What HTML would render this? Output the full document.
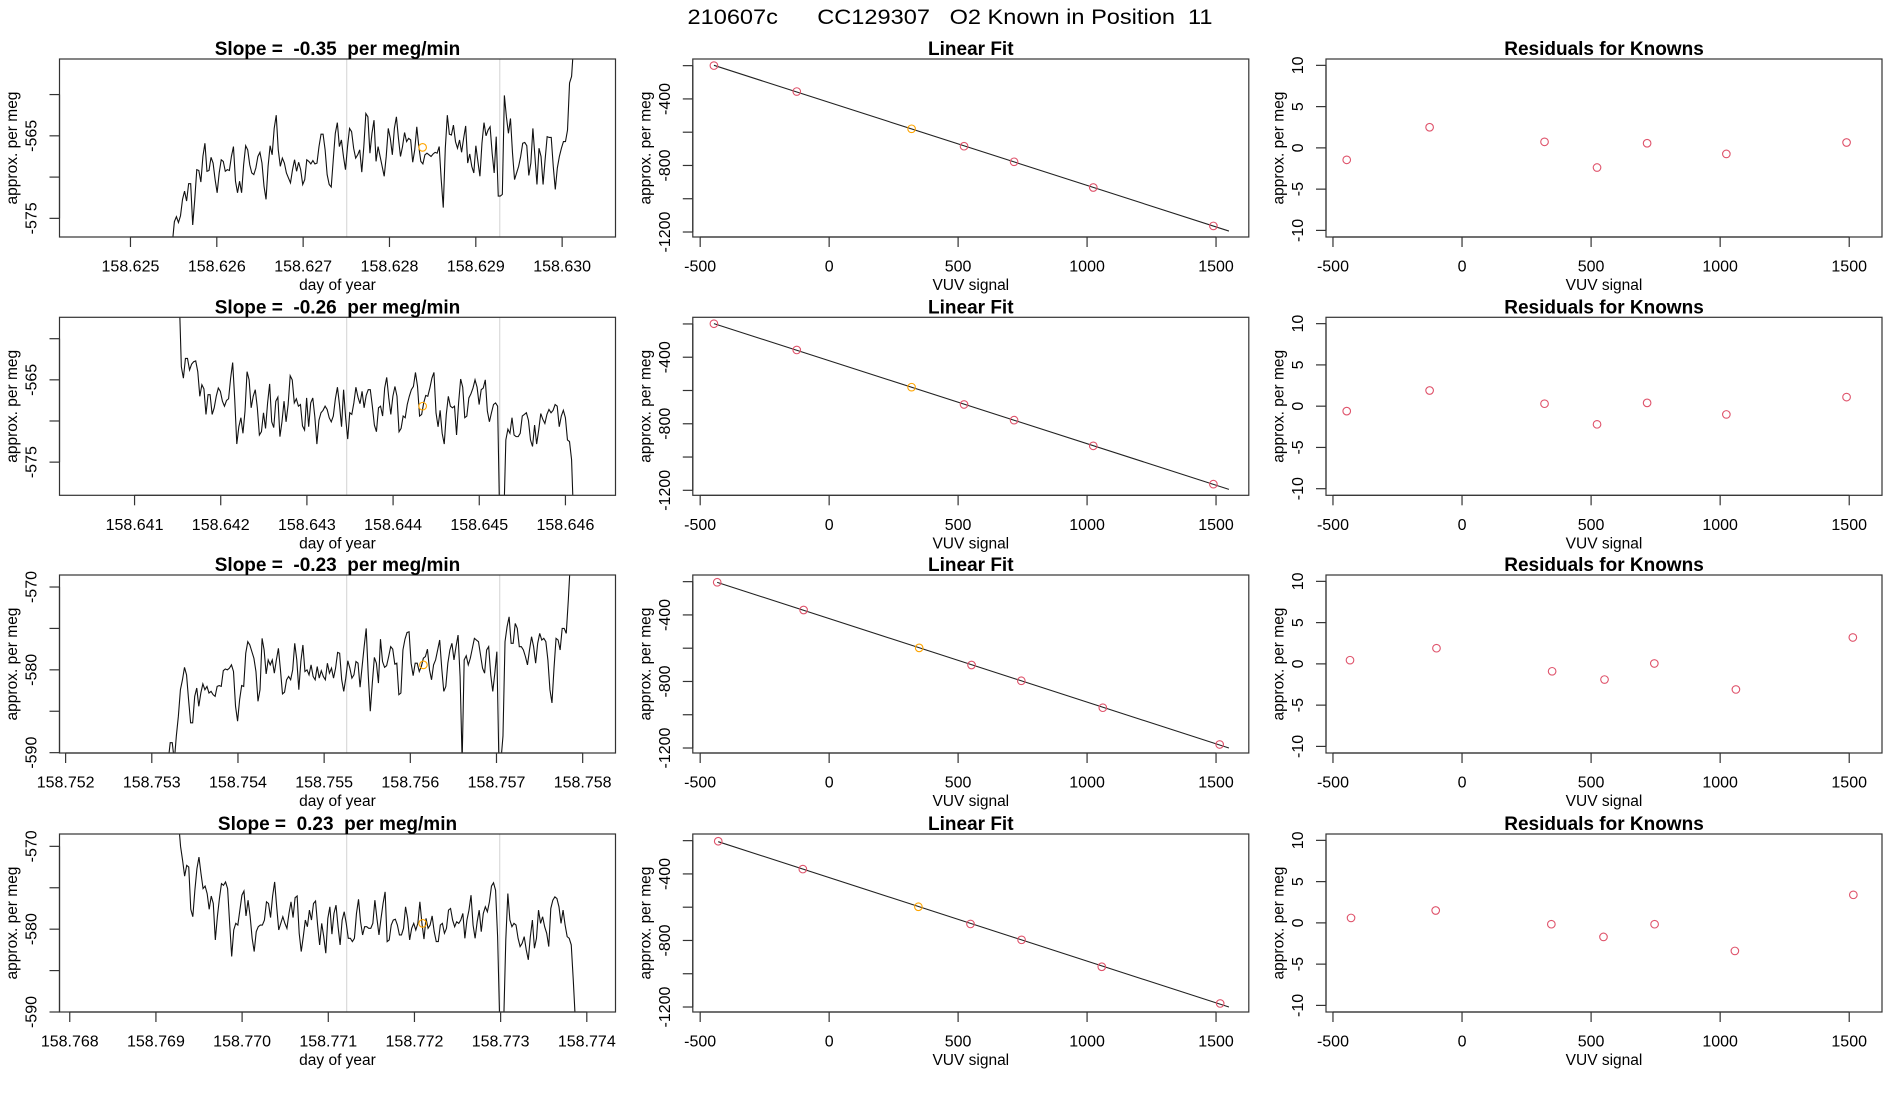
<!DOCTYPE html>
<html><head><meta charset="utf-8"><title>210607c CC129307 O2 Known in Position 11</title>
<style>
html,body{margin:0;padding:0;background:#fff;}
svg{display:block;font-family:"Liberation Sans",Arial,sans-serif;}
text{white-space:pre;}
</style></head>
<body>
<svg id="chart" xmlns="http://www.w3.org/2000/svg" width="1900" height="1100" viewBox="0 0 1900 1100">
<rect x="0" y="0" width="1900" height="1100" fill="#fff"/>
<text x="950" y="24" text-anchor="middle" font-size="21" textLength="525" lengthAdjust="spacingAndGlyphs">210607c      CC129307   O2 Known in Position  11</text>
</svg>
<script>
// ---------- data ----------
const slopeTitles = ["Slope =  -0.35  per meg/min","Slope =  -0.26  per meg/min","Slope =  -0.23  per meg/min","Slope =  0.23  per meg/min"];
const seriesStart = [158.625485, 158.641519, 158.75319, 158.769262];
const seriesEnd = [158.630133, 158.646095, 158.757857, 158.773867];
const series1Values = [-578,-575.4,-574.8,-575.5,-574.7,-572.7,-571.7,-572.9,-570.8,-570.8,-575.8,-572.7,-569.1,-569.2,-570.6,-567.5,-565.9,-569.3,-569.2,-567.6,-568.3,-570.3,-571.9,-569.5,-567.9,-568.1,-569.3,-569.1,-569.2,-567.5,-566.3,-570.5,-571.9,-570.5,-571.9,-568.5,-566.2,-566.7,-568.5,-569.5,-569.7,-568.9,-567.5,-567.0,-568.3,-571.1,-572.7,-568.7,-566.2,-567.3,-564.1,-562.5,-566.7,-568.7,-567.7,-568.3,-569.5,-570.1,-570.7,-569.1,-567.9,-569.3,-568.2,-569.1,-570.9,-570.3,-567.9,-568.1,-568.4,-568.0,-568.4,-568.3,-566.3,-564.8,-564.8,-566.7,-569.7,-570.9,-571.2,-567.9,-564.7,-563.4,-566.3,-565.5,-567.5,-569.1,-566.3,-564.1,-564.5,-566.5,-567.7,-567.3,-566.7,-569.4,-566.3,-562.3,-562.7,-567.1,-564.7,-563.1,-568.1,-566.3,-567.5,-568.7,-569.9,-567.5,-564.1,-565.3,-567.3,-564.1,-562.7,-565.3,-567.5,-566.3,-564.6,-565.7,-565.3,-565.5,-568.2,-566.7,-563.9,-566.3,-568.1,-568.4,-567.3,-567.1,-567.3,-567.5,-567.2,-567.0,-567.1,-566.3,-570.3,-573.7,-566.5,-562.5,-564.8,-564.9,-563.7,-565.7,-566.5,-565.5,-567.0,-565.3,-563.8,-568.3,-567.2,-568.7,-569.5,-566.2,-568.1,-569.9,-565.9,-563.4,-565.0,-564.3,-563.9,-567.1,-569.5,-565.1,-572.3,-572.3,-572.1,-560.1,-562.7,-564.7,-562.9,-567.1,-570.3,-569.5,-568.7,-567.5,-565.9,-565.8,-566.2,-569.8,-568.3,-564.1,-567.5,-570.9,-566.5,-567.5,-570.9,-567.9,-565.1,-565.2,-565.2,-568.7,-571.5,-568.9,-567.5,-566.5,-565.7,-565.7,-564.3,-558.6,-557.8,-554];
const series2Values = [-555,-563.4,-564.8,-562.4,-562.4,-563.8,-563.1,-562.8,-562.7,-564.0,-567.0,-565.6,-566.1,-569.2,-566.8,-566.8,-569.2,-568.4,-567.0,-566.0,-566.4,-567.6,-568.2,-567.5,-567.3,-564.8,-562.9,-567.4,-572.8,-570.7,-569.6,-571.5,-568.8,-564.0,-565.0,-568.4,-567.0,-566.2,-568.4,-571.7,-571.3,-569.0,-570.9,-567.8,-565.5,-570.1,-570.8,-567.6,-567.1,-571.9,-570.1,-567.6,-570.1,-568.0,-564.5,-565.0,-567.8,-567.3,-568.2,-568.0,-570.6,-571.1,-567.2,-570.7,-567.8,-567.2,-569.5,-572.8,-569.9,-569.0,-568.7,-568.2,-568.6,-569.6,-570.1,-569.4,-567.3,-565.9,-568.0,-570.7,-566.2,-569.6,-572.2,-569.0,-569.2,-567.8,-565.9,-567.1,-567.9,-566.4,-568.4,-566.9,-566.2,-566.2,-568.2,-570.5,-571.3,-568.4,-568.2,-569.4,-566.0,-564.7,-567.2,-569.2,-567.0,-565.8,-567.0,-571.3,-570.9,-569.4,-569.6,-568.0,-567.0,-566.2,-565.8,-564.1,-565.8,-569.4,-569.2,-567.8,-566.9,-567.0,-566.0,-564.8,-564.1,-569.0,-570.7,-568.7,-571.5,-572.8,-569.2,-567.0,-568.2,-568.4,-568.2,-571.7,-567.8,-564.9,-565.9,-569.6,-569.4,-567.2,-566.7,-566.0,-565.0,-565.9,-568.0,-566.2,-566.0,-565.0,-568.8,-570.1,-569.0,-568.0,-567.8,-568.2,-582,-582,-582,-572.3,-571.0,-571.5,-569.6,-571.7,-571.9,-571.9,-571.5,-569.4,-569.2,-569.0,-569.9,-572.3,-573.1,-570.5,-572.8,-571.1,-569.1,-569.8,-570.3,-569.2,-568.6,-569.0,-568.7,-568.0,-568.2,-570.7,-569.4,-568.7,-569.6,-572.3,-572.5,-574.7,-582];
const series3Values = [-591,-588.8,-588.8,-591,-588.0,-585.6,-582.4,-581.2,-579.7,-580.6,-583.6,-586.4,-586.4,-583.2,-582.2,-584.4,-582.8,-581.7,-582.4,-582.0,-582.8,-582.6,-583.0,-583.2,-582.0,-581.9,-582.0,-580.1,-579.9,-580.0,-579.8,-579.4,-580.2,-584.4,-586.2,-583.6,-581.9,-582.0,-578.0,-576.6,-577.0,-577.8,-578.6,-580.2,-583.8,-582.4,-576.2,-577.6,-580.5,-578.8,-579.4,-578.8,-580.4,-578.8,-577.4,-580.0,-582.9,-582.7,-581.2,-580.8,-581.2,-580.0,-576.8,-578.8,-582.4,-579.0,-577.0,-580.2,-580.0,-580.6,-579.4,-580.8,-581.2,-579.6,-581.0,-580.1,-580.8,-581.2,-579.2,-580.4,-579.8,-581.0,-579.8,-577.9,-578.0,-581.2,-582.6,-581.0,-578.9,-579.8,-581.0,-580.6,-579.0,-579.2,-582.1,-579.6,-577.2,-575.0,-580.6,-585.0,-581.6,-578.5,-579.2,-581.6,-576.3,-579.0,-579.7,-579.5,-578.4,-577.2,-577.5,-579.3,-579.2,-583.0,-582.8,-577.6,-576.3,-575.5,-575.4,-579.2,-580.7,-579.2,-579.2,-580.2,-579.6,-578.6,-578.4,-577.5,-580.0,-581.2,-579.4,-578.8,-577.6,-576.4,-579.8,-582.6,-582.0,-579.2,-577.6,-576.8,-578.8,-577.2,-575.8,-580.8,-591,-578.8,-578.3,-579.4,-578.6,-577.4,-576.2,-576.4,-576.6,-578.2,-579.8,-580.4,-577.6,-577.2,-580.6,-582.6,-580.4,-577.8,-591,-591,-588.0,-576.6,-574.8,-573.6,-576.8,-576.8,-574.4,-575.0,-577.2,-577.2,-577.6,-578.4,-579.4,-577.6,-576.0,-577.2,-579.2,-576.8,-575.6,-576.4,-576.2,-576.6,-578.8,-582.4,-584.0,-579.8,-576.2,-576.4,-577.6,-575.0,-575.0,-575.6,-571.6,-567];
const series4Values = [-567,-570.0,-571.7,-573.6,-572.3,-572.5,-577.6,-578.5,-575.3,-572.7,-571.3,-573.3,-575.1,-574.8,-575.7,-577.6,-576.0,-576.9,-581.3,-578.5,-576.3,-574.5,-574.7,-574.3,-575.1,-579.3,-583.3,-580.1,-579.3,-579.5,-577.7,-575.9,-575.4,-578.4,-576.5,-578.4,-581.1,-582.7,-580.3,-579.7,-579.5,-579.5,-578.9,-576.7,-576.9,-578.6,-576.0,-574.3,-577.3,-580.1,-579.3,-578.5,-579.3,-579.9,-578.1,-576.7,-578.6,-576.2,-576.0,-580.5,-582.7,-580.9,-578.9,-579.7,-577.7,-578.9,-576.9,-576.6,-579.5,-581.9,-579.3,-580.9,-582.9,-578.7,-577.3,-580.6,-578.1,-577.1,-579.7,-581.9,-578.9,-577.9,-579.3,-581.1,-581.1,-581.5,-581.1,-578.1,-576.4,-579.1,-580.7,-579.7,-579.7,-579.9,-579.9,-579.3,-576.5,-578.7,-580.7,-578.7,-576.9,-575.5,-581.5,-581.3,-579.5,-578.9,-578.8,-579.5,-580.7,-580.7,-579.9,-577.3,-578.7,-581.3,-579.9,-579.3,-580.1,-579.3,-576.7,-579.3,-581.2,-578.7,-579.9,-579.5,-578.4,-580.3,-581.5,-581.5,-579.5,-579.3,-580.5,-579.9,-577.7,-577.5,-578.9,-579.7,-579.1,-579.3,-578.9,-578.1,-581.1,-578.9,-577.7,-575.9,-579.5,-581.1,-579.1,-577.7,-580.3,-578.1,-577.3,-577.9,-576.7,-574.8,-574.4,-575.3,-580.9,-591,-591,-591,-581.3,-575.7,-578.9,-579.7,-579.3,-579.5,-581.1,-582.1,-581.7,-580.9,-582.5,-583.7,-580.9,-578.9,-582.3,-581.1,-577.7,-579.3,-578.5,-579.7,-580.5,-582.1,-577.5,-576.5,-576.1,-576.3,-577.3,-579.3,-577.7,-579.5,-580.9,-581.1,-581.9,-586.2,-591];
const markerTime = [158.628384, 158.644343, 158.756152, 158.772095];
const markerValue = [-566.4, -568.2, -579.4, -579.3];
const windowStart = [158.627505, 158.643462, 158.755262, 158.771214];
const windowEnd = [158.629278, 158.645238, 158.757038, 158.772990];
const timeAxisMin = [158.624178, 158.640129, 158.751929, 158.767881];
const timeAxisMax = [158.630618, 158.646581, 158.758381, 158.774333];
const timeTicks1 = [158.625,158.626,158.627,158.628,158.629,158.630];
const timeTicks2 = [158.641,158.642,158.643,158.644,158.645,158.646];
const timeTicks3 = [158.752,158.753,158.754,158.755,158.756,158.757,158.758];
const timeTicks4 = [158.768,158.769,158.770,158.771,158.772,158.773,158.774];
const perMegAxisMin = [-577.26, -579.03, -590.04, -590.0];
const perMegAxisMax = [-555.69, -557.40, -568.55, -568.51];
const perMegTicksA = [-560,-565,-570,-575];
const perMegLabelsA = [-565,-575];
const perMegTicksB = [-570,-575,-580,-585,-590];
const perMegLabelsB = [-570,-580,-590];

const vuvSignal1 = [-446.7,-125.6,319.6,523,717,1024,1489.7];
const vuvSignal2 = [-446.7,-125.6,319.6,523,717,1024,1489.7];
const vuvSignal3 = [-434,-99,349,552,745,1061,1514];
const vuvSignal4 = [-430,-102,346,548,746,1057,1516];
const knownPerMeg1 = [-199.5,-355.7,-579.6,-684.2,-778.0,-932.5,-1163.5];
const knownPerMeg2 = [-198.6,-356.3,-580.0,-684.0,-778.2,-932.8,-1163.0];
const knownPerMeg3 = [-203.7,-370.4,-598.1,-701.0,-795.9,-957.7,-1178.8];
const knownPerMeg4 = [-203.5,-370.8,-597.4,-700.7,-796.2,-958.0,-1178.6];
const residuals1 = [-1.45,2.5,0.73,-2.38,0.56,-0.73,0.65];
const residuals2 = [-0.6,1.9,0.3,-2.2,0.4,-1.0,1.1];
const residuals3 = [0.45,1.9,-0.9,-1.9,0.05,-3.1,3.2];
const residuals4 = [0.6,1.5,-0.16,-1.7,-0.16,-3.4,3.4];
const fitSlope = [-0.4989,-0.4989,-0.502,-0.502];
const fitIntercept = [-420.9,-420.9,-422,-422];
const fitXEnd = [1550,1550,1550,1550];
const vuvTicks = [-500,0,500,1000,1500];
const fitYTicks = [-200,-400,-600,-800,-1000,-1200];
const fitYLabels = [-400,-800,-1200];
const residYTicks = [10,5,0,-5,-10];

// ---------- layout ----------
const NS = 'http://www.w3.org/2000/svg';
const svg = document.getElementById('chart');
const colLeft = [59.5, 692.8, 1326];
const rowTop = [59, 317.3, 575, 834];
const PW = 556, PH = 178;
const RED = '#DF536B', ORANGE = '#FFA500';

function mk(tag, attrs, parent) {
  const e = document.createElementNS(NS, tag);
  for (const k in attrs) e.setAttribute(k, attrs[k]);
  (parent || svg).appendChild(e);
  return e;
}
function scale(d0, d1, p0, p1) { return v => p0 + (v - d0) / (d1 - d0) * (p1 - p0); }

function drawAxes(g, L, T, sx, sy, xticks, xlabels, xfmt, yticks, ylabels, title, xtitle, prefix) {
  const B = T + PH;
  const box = mk('rect', {x: L, y: T, width: PW, height: PH, fill: 'none', stroke: '#333', 'stroke-width': 1.2}, g);
  
  
  const tt = mk('text', {x: L + PW / 2, y: T - 4, 'text-anchor': 'middle', 'font-size': 19, 'font-weight': 'bold'}, g);
  tt.textContent = title;
  
  
  const xa = mk('line', {x1: sx(xticks[0]), x2: sx(xticks[xticks.length - 1]), y1: B, y2: B, stroke: '#333', 'stroke-width': 1.2}, g);
  
  
  xticks.forEach(v => {
    const x = sx(v);
    const tk = mk('line', {x1: x, x2: x, y1: B, y2: B + 10, stroke: '#333', 'stroke-width': 1.2}, g);
    
    
    if (xlabels) {
      const lb = mk('text', {x: x, y: B + 34.5, 'text-anchor': 'middle', 'font-size': 16}, g);
      lb.textContent = xfmt(v);
      
      
    }
  });
  const xt = mk('text', {x: L + PW / 2, y: B + 53, 'text-anchor': 'middle', 'font-size': 15.5}, g);
  xt.textContent = xtitle;
  
  
  const ya = mk('line', {x1: L, x2: L, y1: sy(yticks[0]), y2: sy(yticks[yticks.length - 1]), stroke: '#333', 'stroke-width': 1.2}, g);
  
  
  yticks.forEach(v => {
    const y = sy(v);
    const tk = mk('line', {x1: L - 10, x2: L, y1: y, y2: y, stroke: '#333', 'stroke-width': 1.2}, g);
    
    
  });
  ylabels.forEach(v => {
    const y = sy(v);
    const lb = mk('text', {x: L - 23, y: y, 'text-anchor': 'middle', 'font-size': 16, transform: 'rotate(-90 ' + (L - 23) + ' ' + y + ')'}, g);
    lb.textContent = String(v);
    
    
  });
  const yl = mk('text', {x: L - 42.5, y: T + PH / 2, 'text-anchor': 'middle', 'font-size': 15.5, transform: 'rotate(-90 ' + (L - 42.5) + ' ' + (T + PH / 2) + ')'}, g);
  yl.textContent = 'approx. per meg';
  
  
}

const allSeries = [series1Values, series2Values, series3Values, series4Values];
const allTimeTicks = [timeTicks1, timeTicks2, timeTicks3, timeTicks4];
const allVuv = [vuvSignal1, vuvSignal2, vuvSignal3, vuvSignal4];
const allKnown = [knownPerMeg1, knownPerMeg2, knownPerMeg3, knownPerMeg4];
const allResid = [residuals1, residuals2, residuals3, residuals4];

const defs = mk('defs', {});
for (let r = 0; r < 4; r++) {
  const T = rowTop[r];
  // ---- time series panel ----
  const g1 = mk('g', {});
  
  
  const L1 = colLeft[0];
  const sx = scale(timeAxisMin[r], timeAxisMax[r], L1, L1 + PW);
  const sy = scale(perMegAxisMin[r], perMegAxisMax[r], T + PH, T);
  const cp = mk('clipPath', {id: 'clip' + r}, defs);
  mk('rect', {x: L1, y: T, width: PW, height: PH}, cp);
  [windowStart[r], windowEnd[r]].forEach(t => {
    const vl = mk('line', {x1: sx(t), x2: sx(t), y1: T, y2: T + PH, stroke: '#d3d3d3', 'stroke-width': 1}, g1);
    
    
  });
  const vals = allSeries[r];
  const n = vals.length;
  const pts = vals.map((v, i) => {
    const t = seriesStart[r] + (seriesEnd[r] - seriesStart[r]) * i / (n - 1);
    return sx(t).toFixed(2) + ',' + sy(v).toFixed(2);
  }).join(' ');
  const pl = mk('polyline', {points: pts, fill: 'none', stroke: '#111', 'stroke-width': 1.1, 'clip-path': 'url(#clip' + r + ')'}, g1);
  
  
  const mc = mk('circle', {cx: sx(markerTime[r]), cy: sy(markerValue[r]), r: 3.8, fill: 'none', stroke: ORANGE, 'stroke-width': 1.1}, g1);
  
  
  const tks = r < 2 ? perMegTicksA : perMegTicksB;
  const lbs = r < 2 ? perMegLabelsA : perMegLabelsB;
  drawAxes(g1, L1, T, sx, sy, allTimeTicks[r], true, v => v.toFixed(3), tks, lbs, slopeTitles[r], 'day of year', 'time-series-' + (r + 1));

  // ---- linear fit panel ----
  const g2 = mk('g', {});
  
  
  const L2 = colLeft[1];
  const fx = scale(-528.6, 1627, L2, L2 + PW);
  const fy = scale(-1230, -160, T + PH, T);
  const xs = allVuv[r], ys = allKnown[r];
  const x0 = xs[0], x1 = fitXEnd[r];
  const fl = mk('line', {x1: fx(x0), y1: fy(fitIntercept[r] + fitSlope[r] * x0), x2: fx(x1), y2: fy(fitIntercept[r] + fitSlope[r] * x1), stroke: '#222', 'stroke-width': 1.1}, g2);
  
  
  xs.forEach((x, i) => {
    const c = mk('circle', {cx: fx(x), cy: fy(ys[i]), r: 3.8, fill: 'none', stroke: i === 2 ? ORANGE : RED, 'stroke-width': 1.1}, g2);
    
    
  });
  drawAxes(g2, L2, T, fx, fy, vuvTicks, true, v => String(v), fitYTicks, fitYLabels, 'Linear Fit', 'VUV signal', 'linear-fit-' + (r + 1));

  // ---- residuals panel ----
  const g3 = mk('g', {});
  
  
  const L3 = colLeft[2];
  const rx = scale(-527, 1627, L3, L3 + PW);
  const ry = scale(-10.8, 10.77, T + PH, T);
  allResid[r].forEach((v, i) => {
    const c = mk('circle', {cx: rx(xs[i]), cy: ry(v), r: 3.8, fill: 'none', stroke: RED, 'stroke-width': 1.1}, g3);
    
    
  });
  drawAxes(g3, L3, T, rx, ry, vuvTicks, true, v => String(v), residYTicks, residYTicks, 'Residuals for Knowns', 'VUV signal', 'residuals-' + (r + 1));
}
</script>
</body></html>
